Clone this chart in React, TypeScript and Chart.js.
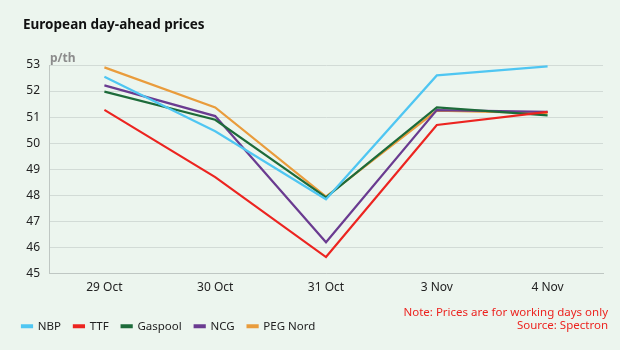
import React, { useEffect, useRef } from "react";
import { Chart, registerables } from "chart.js";

Chart.register(...registerables);

const categories = ["29 Oct", "30 Oct", "31 Oct", "3 Nov", "4 Nov"];
const nbp = [52.55, 50.46, 47.85, 52.6, 52.95];
const ttf = [51.28, 48.7, 45.63, 50.7, 51.2];
const gaspool = [51.98, 50.9, 47.92, 51.37, 51.07];
const ncg = [52.22, 51.04, 46.2, 51.27, 51.2];
const pegNord = [52.91, 51.37, 47.95, 51.25, 51.15];
const seriesNames = ["NBP", "TTF", "Gaspool", "NCG", "PEG Nord"];
const seriesColors = ["#4FC6F2", "#EC2420", "#1D6B3A", "#6A3B90", "#E99C3C"];
const yMin = 45;
const yMax = 53;
const titleText = "European day-ahead prices";
const unitText = "p/th";
const noteLines = ["Note: Prices are for working days only", "Source: Spectron"];

const FONT = "'Noto Sans', sans-serif";

const decorPlugin = {
  id: "decor",
  beforeDraw(chart: any) {
    const { ctx, width, height } = chart;
    ctx.save();
    ctx.fillStyle = "#ECF5EE";
    ctx.fillRect(0, 0, width, height);
    ctx.restore();
  },
  afterDraw(chart: any) {
    const { ctx, chartArea } = chart;
    ctx.save();
    ctx.fillStyle = "#111111";
    ctx.font = `bold 13.5px ${FONT}`;
    ctx.textAlign = "left";
    ctx.textBaseline = "middle";
    ctx.fillText(titleText, 23, 25);
    ctx.fillStyle = "#8C8C8C";
    ctx.font = `bold 12px ${FONT}`;
    ctx.textBaseline = "alphabetic";
    ctx.fillText(unitText, chartArea.left + 1, 62);
    ctx.fillStyle = "#EC2420";
    ctx.font = `11.5px ${FONT}`;
    ctx.textAlign = "right";
    ctx.textBaseline = "middle";
    ctx.fillText(noteLines[0], 608, 313);
    ctx.fillText(noteLines[1], 608, 326);
    ctx.restore();
  },
};

export default function App() {
  const canvasRef = useRef<HTMLCanvasElement | null>(null);

  useEffect(() => {
    if (!canvasRef.current) return;
    const values = [nbp, ttf, gaspool, ncg, pegNord];
    const chart = new Chart(canvasRef.current, {
      type: "line",
      data: {
        labels: categories,
        datasets: seriesNames.map((name, i) => ({
          label: name,
          data: values[i],
          borderColor: seriesColors[i],
          backgroundColor: seriesColors[i],
          borderWidth: 2.2,
          pointRadius: 0,
          tension: 0,
          fill: false,
        })),
      },
      options: {
        animation: false,
        responsive: false,
        maintainAspectRatio: false,
        layout: { padding: { left: 9, right: 17, top: 65, bottom: 8 } },
        plugins: {
          title: { display: false },
          tooltip: { enabled: false },
          legend: {
            display: true,
            position: "bottom",
            align: "start",
            labels: {
              boxWidth: 10,
              boxHeight: 2,
              padding: 13,
              color: "#222222",
              font: { family: FONT, size: 11.5 },
            },
          },
        },
        scales: {
          x: {
            offset: true,
            grid: { display: true, drawOnChartArea: false, drawTicks: false },
            border: { display: true, color: "#BFC7C3", width: 1 },
            ticks: {
              color: "#222222",
              padding: 7,
              font: { family: FONT, size: 12 },
              maxRotation: 0,
            },
            afterFit(scale: any) {
              scale.height = 34;
            },
          },
          y: {
            min: yMin,
            max: yMax,
            grid: { color: "#D2DBD6", drawTicks: false, lineWidth: 1 },
            border: { display: true, color: "#BFC7C3", width: 1 },
            ticks: {
              stepSize: 1,
              color: "#222222",
              padding: 9,
              font: { family: FONT, size: 12 },
            },
            afterFit(scale: any) {
              scale.width = 40;
            },
          },
        },
      },
      plugins: [decorPlugin],
    });
    return () => chart.destroy();
  }, []);

  return (
    <div style={{ position: "fixed", left: 0, top: 0, width: 620, height: 350 }}>
      <canvas ref={canvasRef} width={620} height={350} style={{ display: "block" }} />
    </div>
  );
}
